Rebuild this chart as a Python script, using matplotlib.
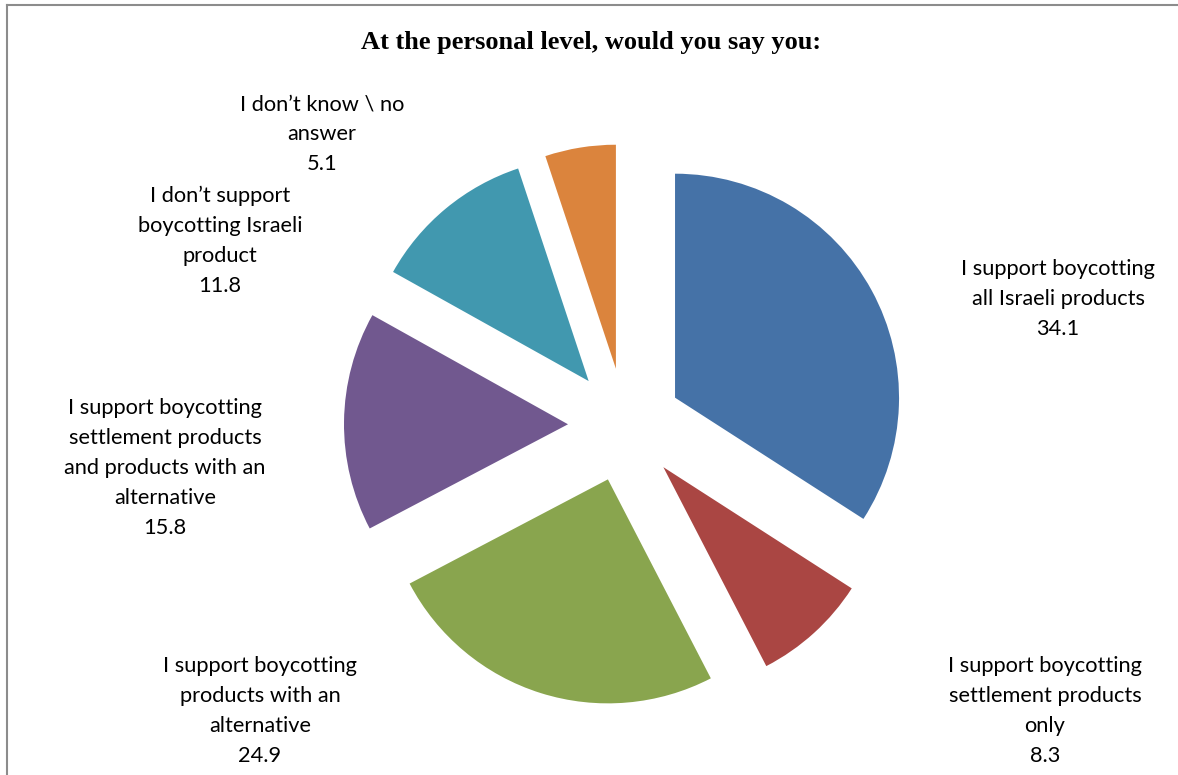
import matplotlib
matplotlib.use('Agg')
from matplotlib import pyplot as plt
from matplotlib.lines import Line2D

# data
labels = ['I support boycotting\nall Israeli products',
          'I support boycotting\nsettlement products\nonly',
          'I support boycotting\nproducts with an\nalternative',
          'I support boycotting\nsettlement products\nand products with an\nalternative',
          'I don\u2019t support\nboycotting Israeli\nproduct',
          'I don\u2019t know \\ no\nanswer']
values = [34.1, 8.3, 24.9, 15.8, 11.8, 5.1]
colors = ['#4572A7', '#AA4643', '#89A54E', '#71588F', '#4198AF', '#DB843D']
# label centres in pixels (x, y from top)
label_pos = [(1058, 299), (1045, 711), (260, 711), (165, 468), (220, 241), (322, 134)]

W, H = 1178, 775
fig = plt.figure(figsize=(W / 100, H / 100), dpi=100)
ax = fig.add_axes([0, 0, 1, 1])
ax.set_aspect('equal')
ax.axis('off')

R = 224
# explode offset is in data units (pixels here)
ax.pie(values, colors=colors, startangle=90, counterclock=False,
       radius=R, center=(625, H - 425), explode=[57] * len(values),
       wedgeprops=dict(linewidth=0))
ax.set_xlim(0, W)
ax.set_ylim(0, H)

for lab, v, (x, y) in zip(labels, values, label_pos):
    ax.text(x, H - y, f'{lab}\n{v}', ha='center', va='center',
            fontsize=15.7, family='Lato', linespacing=1.62, color='black')

fig.text(591 / W, 1 - 43 / H, 'At the personal level, would you say you:',
         ha='center', va='center', fontsize=19, fontweight='bold',
         family='Liberation Serif')

# chart-area frame (only left and top visible)
fig.add_artist(Line2D([7 / W, 7 / W], [0, 1 - 5 / H], transform=fig.transFigure,
                      color='#8c8c8c', lw=1.5))
fig.add_artist(Line2D([7 / W, 1], [1 - 5 / H, 1 - 5 / H], transform=fig.transFigure,
                      color='#8c8c8c', lw=1.5))

fig.savefig('out.png', dpi=100)
